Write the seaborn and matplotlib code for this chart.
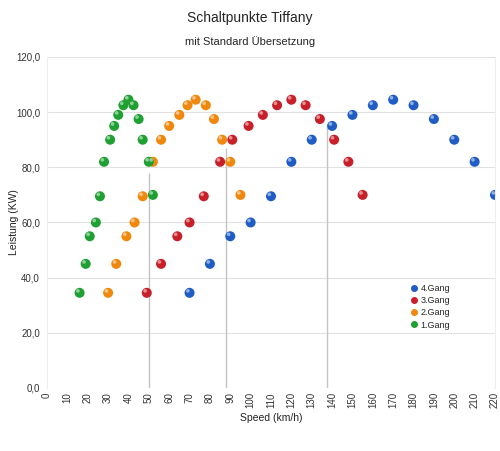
import numpy as np
import pandas as pd
import matplotlib
matplotlib.use("Agg")
import matplotlib.pyplot as plt
import matplotlib.transforms as mtransforms
import seaborn as sns

# power curve (kW) shared by all gears
power = [34.5, 45, 55, 60, 69.5, 82, 90, 95, 99, 102.5, 104.5, 102.5, 97.5, 90, 82, 70]

speed_1 = [16, 19, 21, 24, 26, 28, 31, 33, 35, 37.5, 40, 42.5, 45, 47, 50, 52]
speed_2 = [30, 34, 39, 43, 47, 52, 56, 60, 65, 69, 73, 78, 82, 86, 90, 95]
speed_3 = [49, 56, 64, 70, 77, 85, 91, 99, 106, 113, 120, 127, 134, 141, 148, 155]
speed_4 = [70, 80, 90, 100, 110, 120, 130, 140, 150, 160, 170, 180, 190, 200, 210, 220]

gears = ["4.Gang", "3.Gang", "2.Gang", "1.Gang"]
colors = ["#1f5cc4", "#c8202a", "#f0880e", "#1fa032"]

# shift points (drop lines)
shift_speed = [50, 88, 137.5]
shift_power = [78, 87, 94.5]

df = pd.concat([
    pd.DataFrame({"speed": speed_4, "power": power, "Gang": "4.Gang"}),
    pd.DataFrame({"speed": speed_3, "power": power, "Gang": "3.Gang"}),
    pd.DataFrame({"speed": speed_2, "power": power, "Gang": "2.Gang"}),
    pd.DataFrame({"speed": speed_1, "power": power, "Gang": "1.Gang"}),
], ignore_index=True)

sns.set_style("white")
plt.rcParams["font.family"] = ["Liberation Sans", "DejaVu Sans"]

fig = plt.figure(figsize=(5, 4.51), dpi=100)
ax = fig.add_axes([0.094, 0.1397, 0.896, 0.734])

palette = dict(zip(gears, colors))

ax.vlines(shift_speed, 0, shift_power, color="#c4c4c4", lw=1, zorder=1)

sns.scatterplot(data=df, x="speed", y="power", hue="Gang", hue_order=gears,
                palette=palette, s=52, edgecolor="none", ax=ax, zorder=3,
                legend=False)

# little highlight on each ball
offset = mtransforms.ScaledTranslation(-1.2 / 72, 1.4 / 72, fig.dpi_scale_trans)
hl = ax.scatter(df["speed"], df["power"], s=7, color="white", alpha=0.5,
                edgecolor="none", zorder=4)
hl.set_offset_transform(ax.transData + offset)

ax.set_xlim(0, 220)
ax.set_ylim(0, 120)
ax.set_xticks(np.arange(0, 221, 10))
ax.set_yticks(np.arange(0, 121, 20))
ax.set_yticklabels([f"{v:.1f}".replace(".", ",") for v in np.arange(0, 121, 20)])
ax.tick_params(axis="x", labelrotation=90, labelsize=7, colors="#333333", length=0, pad=3)
ax.tick_params(axis="y", labelsize=7, colors="#333333", length=0, pad=5)
ax.yaxis.grid(True, color="#e2e2e2", lw=0.8)
ax.set_axisbelow(True)
for side in ["top", "bottom"]:
    ax.spines[side].set_visible(False)
for side in ["left", "right"]:
    ax.spines[side].set_color("#eeeeee")

ax.set_xlabel("Speed (km/h)", fontsize=7.5, color="#222222", labelpad=3)
ax.set_ylabel("Leistung (KW)", fontsize=7.5, color="#222222")
ax.yaxis.set_label_coords(-0.062, 0.5)

handles = [plt.Line2D([], [], marker="o", ls="none", markersize=4, color=c) for c in colors]
ax.legend(handles, gears, loc="center left", bbox_to_anchor=(0.8, 0.245),
          frameon=False, fontsize=6.5, handlelength=1, handletextpad=0.2,
          labelspacing=0.35, borderpad=0)

fig.text(0.5, 0.96, "Schaltpunkte Tiffany", ha="center", va="center", fontsize=10)
fig.text(0.5, 0.907, "mit Standard Übersetzung", ha="center", va="center", fontsize=8)

fig.savefig("out.png", dpi=100, facecolor="white")
